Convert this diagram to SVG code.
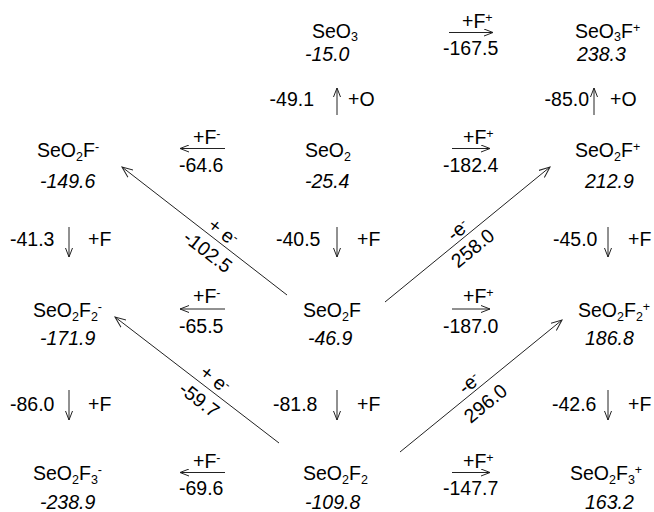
<svg xmlns="http://www.w3.org/2000/svg" width="654" height="512" viewBox="0 0 654 512">
<defs>
<style>
text{font-family:"Liberation Sans",Arial,sans-serif;font-size:19.5px;fill:#000}
.v{font-style:italic}
.s{font-size:12.5px}
.l{stroke:#222;stroke-width:1;fill:none}
</style>
<marker id="ah" markerWidth="10" markerHeight="8" refX="9" refY="4" orient="auto" markerUnits="userSpaceOnUse">
<path d="M0,0.5 L9,4 L0,7.5" fill="none" stroke="#222" stroke-width="1"/>
</marker>
<marker id="ad" markerWidth="12" markerHeight="10" refX="11" refY="5" orient="auto" markerUnits="userSpaceOnUse">
<path d="M0,0.5 L11,5 L0,9.5" fill="none" stroke="#222" stroke-width="1"/>
</marker>
</defs>
<rect width="654" height="512" fill="#fff"/>

<g id="connectors">
<line class="l" x1="449" y1="32.5" x2="493" y2="32.5" marker-end="url(#ah)"/>
<line class="l" x1="225" y1="148.5" x2="180" y2="148.5" marker-end="url(#ah)"/>
<line class="l" x1="452" y1="148.5" x2="490" y2="148.5" marker-end="url(#ah)"/>
<line class="l" x1="225" y1="309" x2="180" y2="309" marker-end="url(#ah)"/>
<line class="l" x1="452" y1="309" x2="490" y2="309" marker-end="url(#ah)"/>
<line class="l" x1="225" y1="472.5" x2="180" y2="472.5" marker-end="url(#ah)"/>
<line class="l" x1="452" y1="472.5" x2="490" y2="472.5" marker-end="url(#ah)"/>

<line class="l" x1="337" y1="115" x2="337" y2="88" marker-end="url(#ah)"/>
<line class="l" x1="594" y1="115" x2="594" y2="88" marker-end="url(#ah)"/>
<line class="l" x1="69" y1="227" x2="69" y2="257" marker-end="url(#ah)"/>
<line class="l" x1="337" y1="227" x2="337" y2="257" marker-end="url(#ah)"/>
<line class="l" x1="608" y1="227" x2="608" y2="257" marker-end="url(#ah)"/>
<line class="l" x1="69" y1="390" x2="69" y2="420" marker-end="url(#ah)"/>
<line class="l" x1="337" y1="390" x2="337" y2="420" marker-end="url(#ah)"/>
<line class="l" x1="608" y1="390" x2="608" y2="420" marker-end="url(#ah)"/>

<line class="l" x1="287" y1="295" x2="122" y2="167" marker-end="url(#ad)"/>
<line class="l" x1="385" y1="302" x2="550" y2="167" marker-end="url(#ad)"/>
<line class="l" x1="279" y1="443" x2="115" y2="317" marker-end="url(#ad)"/>
<line class="l" x1="400" y1="452" x2="562" y2="320" marker-end="url(#ad)"/>
</g>

<g id="labels">
<text x="462" y="28">+F<tspan class="s" baseline-shift="6">+</tspan></text>
<text x="443" y="55">-167.5</text>
<text x="193" y="144">+F<tspan class="s" baseline-shift="6">-</tspan></text>
<text x="179" y="172">-64.6</text>
<text x="463" y="144">+F<tspan class="s" baseline-shift="6">+</tspan></text>
<text x="443" y="172">-182.4</text>
<text x="193" y="303">+F<tspan class="s" baseline-shift="6">-</tspan></text>
<text x="179" y="333">-65.5</text>
<text x="463" y="303">+F<tspan class="s" baseline-shift="6">+</tspan></text>
<text x="443" y="333">-187.0</text>
<text x="193" y="468">+F<tspan class="s" baseline-shift="6">-</tspan></text>
<text x="179" y="495">-69.6</text>
<text x="463" y="468">+F<tspan class="s" baseline-shift="6">+</tspan></text>
<text x="443" y="495">-147.7</text>

<text x="314" y="106" text-anchor="end">-49.1</text><text x="348" y="106">+O</text>
<text x="589" y="106" text-anchor="end">-85.0</text><text x="610" y="106">+O</text>
<text x="10" y="246">-41.3</text><text x="88" y="246">+F</text>
<text x="276" y="246">-40.5</text><text x="357" y="246">+F</text>
<text x="553" y="246">-45.0</text><text x="628" y="246">+F</text>
<text x="10" y="411">-86.0</text><text x="88" y="411">+F</text>
<text x="273" y="411">-81.8</text><text x="357" y="411">+F</text>
<text x="552" y="411">-42.6</text><text x="628" y="411">+F</text>

<g transform="translate(216.5,240.3) rotate(37.8)">
<text x="0" y="-4" text-anchor="middle">+ e<tspan class="s" baseline-shift="6">-</tspan></text>
<text x="0" y="21" text-anchor="middle">-102.5</text>
</g>
<g transform="translate(464,237.4) rotate(-39.3)">
<text x="0" y="-3" text-anchor="middle">-e<tspan class="s" baseline-shift="6">-</tspan></text>
<text x="0" y="20.5" text-anchor="middle">258.0</text>
</g>
<g transform="translate(208,388.4) rotate(37.5)">
<text x="0" y="-5" text-anchor="middle">+ e<tspan class="s" baseline-shift="6">-</tspan></text>
<text x="0" y="21" text-anchor="middle">-59.7</text>
</g>
<g transform="translate(475.2,390.7) rotate(-39.2)">
<text x="0" y="-3" text-anchor="middle">-e<tspan class="s" baseline-shift="6">-</tspan></text>
<text x="0" y="23" text-anchor="middle">296.0</text>
</g>
</g>

<g id="SeO3"><text x="312" y="37.5">SeO<tspan class="s" baseline-shift="-3">3</tspan></text><text class="v" x="305" y="61">-15.0</text></g>
<g id="SeO3F_plus"><text x="575" y="37.5">SeO<tspan class="s" baseline-shift="-3">3</tspan>F<tspan class="s" baseline-shift="6">+</tspan></text><text class="v" x="577" y="61">238.3</text></g>
<g id="SeO2F_minus"><text x="37" y="157">SeO<tspan class="s" baseline-shift="-4">2</tspan>F<tspan class="s" baseline-shift="6">-</tspan></text><text class="v" x="40" y="188">-149.6</text></g>
<g id="SeO2"><text x="305" y="157">SeO<tspan class="s" baseline-shift="-4">2</tspan></text><text class="v" x="305" y="188">-25.4</text></g>
<g id="SeO2F_plus"><text x="575" y="157">SeO<tspan class="s" baseline-shift="-4">2</tspan>F<tspan class="s" baseline-shift="6">+</tspan></text><text class="v" x="585" y="188">212.9</text></g>
<g id="SeO2F2_minus"><text x="33" y="317">SeO<tspan class="s" baseline-shift="-4">2</tspan>F<tspan class="s" baseline-shift="-4">2</tspan><tspan class="s" baseline-shift="6">-</tspan></text><text class="v" x="40" y="345">-171.9</text></g>
<g id="SeO2F"><text x="303" y="317">SeO<tspan class="s" baseline-shift="-4">2</tspan>F</text><text class="v" x="308" y="345">-46.9</text></g>
<g id="SeO2F2_plus"><text x="578" y="317">SeO<tspan class="s" baseline-shift="-4">2</tspan>F<tspan class="s" baseline-shift="-4">2</tspan><tspan class="s" baseline-shift="6">+</tspan></text><text class="v" x="585" y="345">186.8</text></g>
<g id="SeO2F3_minus"><text x="33" y="480">SeO<tspan class="s" baseline-shift="-4">2</tspan>F<tspan class="s" baseline-shift="-4">3</tspan><tspan class="s" baseline-shift="6">-</tspan></text><text class="v" x="40" y="509">-238.9</text></g>
<g id="SeO2F2"><text x="303" y="480">SeO<tspan class="s" baseline-shift="-4">2</tspan>F<tspan class="s" baseline-shift="-4">2</tspan></text><text class="v" x="305" y="509">-109.8</text></g>
<g id="SeO2F3_plus"><text x="570" y="480">SeO<tspan class="s" baseline-shift="-4">2</tspan>F<tspan class="s" baseline-shift="-4">3</tspan><tspan class="s" baseline-shift="6">+</tspan></text><text class="v" x="585" y="509">163.2</text></g>
</svg>
